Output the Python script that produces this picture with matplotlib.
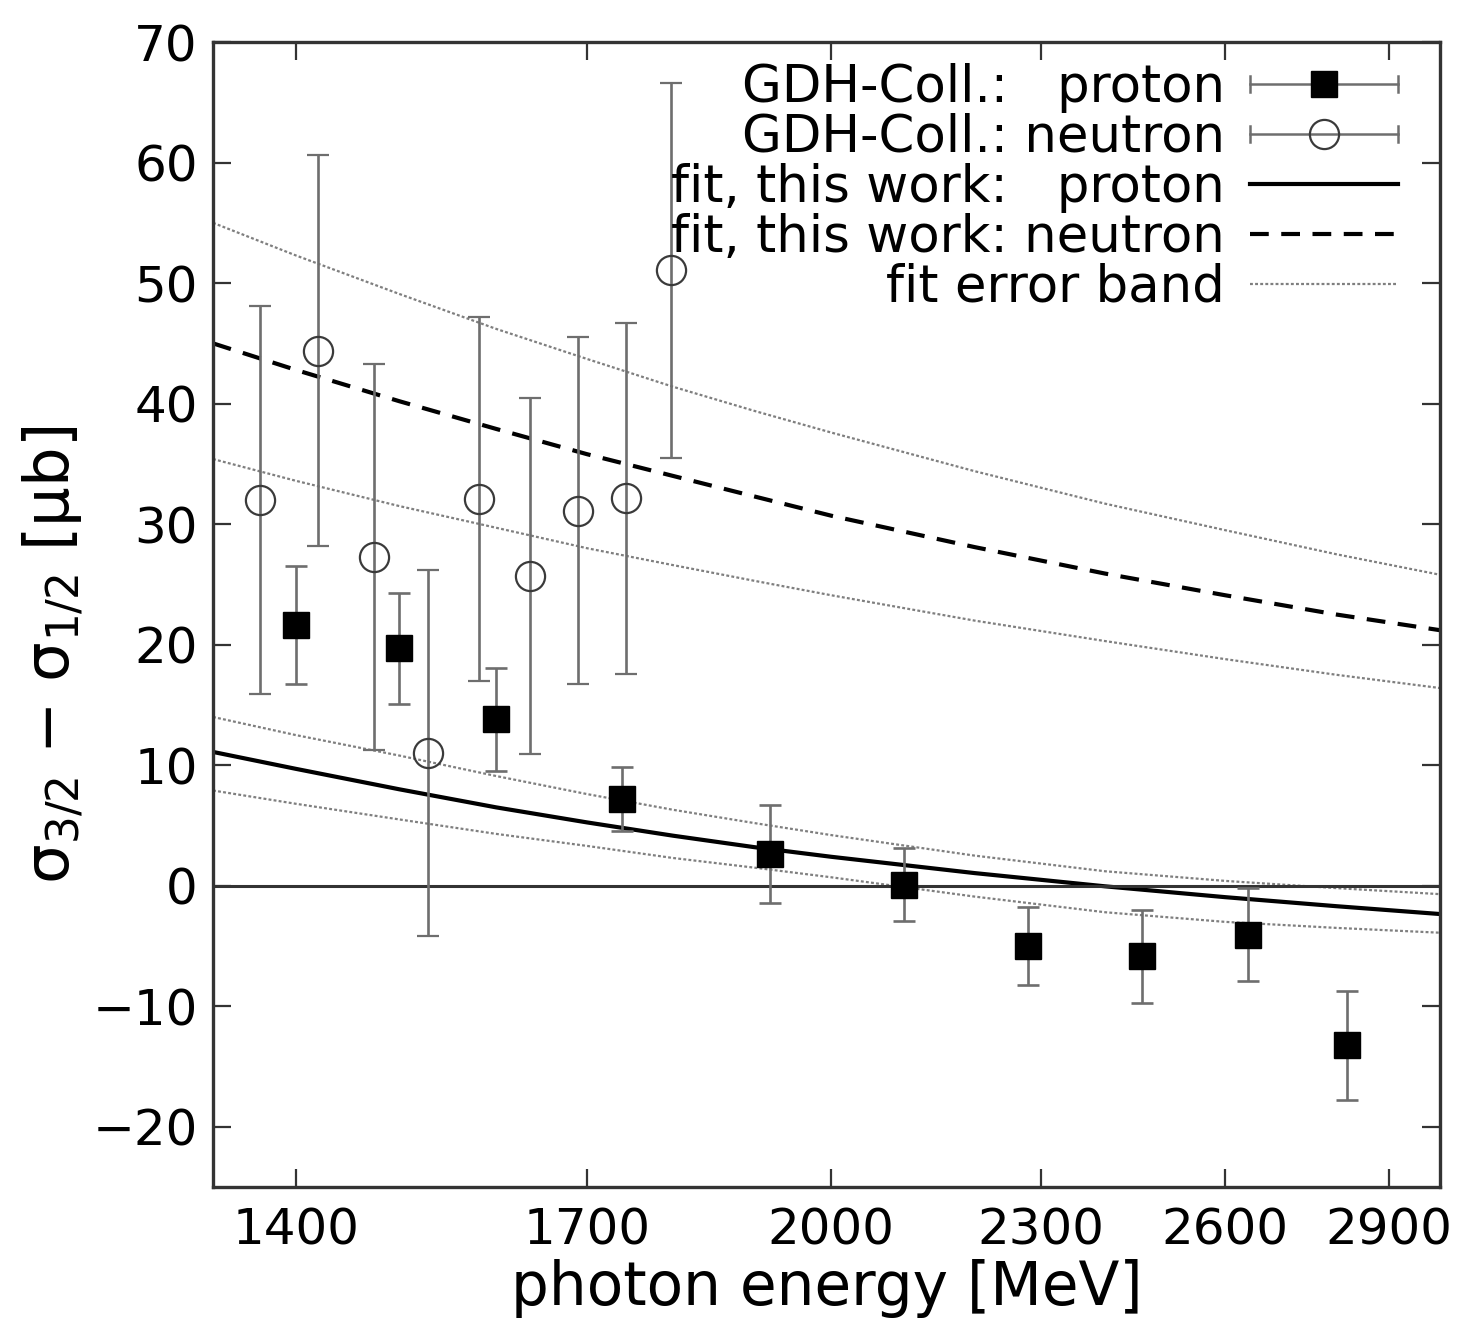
import numpy as np
import matplotlib
matplotlib.use("Agg")
import matplotlib.pyplot as plt
from matplotlib.lines import Line2D
from matplotlib.legend_handler import HandlerBase
from matplotlib.ticker import NullLocator

# GDH-Collaboration data, proton (filled squares)
E_proton = [1400, 1500, 1600, 1740, 1920, 2100, 2280, 2460, 2640, 2820]
sig_proton = [21.6, 19.7, 13.8, 7.2, 2.65, 0.1, -5.0, -5.85, -4.05, -13.25]
err_proton = [4.9, 4.6, 4.3, 2.65, 4.05, 3.0, 3.2, 3.85, 3.85, 4.55]

# GDH-Collaboration data, neutron (open circles)
E_neutron = [1367, 1421, 1475, 1529, 1582, 1636, 1690, 1744, 1798]
sig_neutron = [32.0, 44.4, 27.3, 11.0, 32.1, 25.7, 31.1, 32.15, 51.05]
err_neutron = [16.1, 16.2, 16.0, 15.2, 15.1, 14.8, 14.4, 14.55, 15.55]

# fit curves
E_fit = [1325, 1400, 1500, 1600, 1700, 1800, 1900, 2000, 2200, 2400, 2600, 2800, 3000]
fit_neutron = [45.0, 42.8, 40.2, 37.9, 35.8, 34.0, 32.3, 30.7, 28.1, 25.9, 24.1, 22.5, 21.2]
fit_neutron_hi = [55.0, 52.3, 49.1, 46.2, 43.7, 41.4, 39.4, 37.6, 34.4, 31.7, 29.5, 27.5, 25.8]
fit_neutron_lo = [35.4, 33.6, 31.5, 29.7, 28.0, 26.6, 25.3, 24.1, 22.0, 20.3, 18.8, 17.5, 16.4]
fit_proton = [11.1, 9.7, 8.0, 6.5, 5.25, 4.15, 3.2, 2.4, 1.05, -0.05, -0.95, -1.7, -2.35]
fit_proton_hi = [14.0, 12.5, 10.8, 9.1, 7.6, 6.3, 5.2, 4.2, 2.5, 1.2, 0.4, -0.2, -0.7]
fit_proton_lo = [7.9, 6.8, 5.5, 4.3, 3.3, 2.3, 1.5, 0.7, -0.9, -2.2, -3.0, -3.5, -3.9]

x_ticks = [1400, 1700, 2000, 2300, 2600, 2900]
y_ticks = [-20, -10, 0, 10, 20, 30, 40, 50, 60, 70]

AX_COL = '#333333'
BAR_COL = '#6e6e6e'
BAND_COL = '#7f7f7f'


class HandlerHBar(HandlerBase):
    # gnuplot style key sample: horizontal bar with caps and the point in the middle
    def create_artists(self, legend, orig_handle, xdescent, ydescent,
                       width, height, fontsize, trans):
        y = (height - ydescent) / 2
        x0, x1 = -xdescent, width - xdescent
        c = 0.22 * height
        arts = [Line2D([x0, x1], [y, y], color=BAR_COL, lw=1.8),
                Line2D([x0, x0], [y - c, y + c], color=BAR_COL, lw=1.8),
                Line2D([x1, x1], [y - c, y + c], color=BAR_COL, lw=1.8),
                Line2D([(x0 + x1) / 2], [y], ls='none',
                       marker=orig_handle.get_marker(),
                       ms=orig_handle.get_markersize(),
                       mfc=orig_handle.get_markerfacecolor(),
                       mec=orig_handle.get_markeredgecolor(),
                       mew=orig_handle.get_markeredgewidth())]
        for a in arts:
            a.set_transform(trans)
        return arts


fig = plt.figure(figsize=(14.59, 13.39), dpi=100)
fig.subplots_adjust(left=0.146, right=0.987, bottom=0.1135, top=0.9686)
ax = fig.add_subplot(111)

band_style = dict(color=BAND_COL, lw=1.6, ls=(0, (1.3, 1.0)))
ax.plot(E_fit, fit_neutron_hi, **band_style)
ax.plot(E_fit, fit_neutron_lo, **band_style)
ax.plot(E_fit, fit_proton_hi, **band_style)
ax.plot(E_fit, fit_proton_lo, **band_style)
ax.plot(E_fit, fit_neutron, color='black', lw=3.0, ls=(0, (4.5, 3)))
ax.plot(E_fit, fit_proton, color='black', lw=3.0)

ax.axhline(0, color=AX_COL, lw=2.2, zorder=2)

ax.errorbar(E_neutron, sig_neutron, yerr=err_neutron, fmt='o', ms=21,
            mfc='none', mec='#3a3a3a', mew=1.6, ecolor=BAR_COL,
            elinewidth=1.9, capsize=8, capthick=1.9, zorder=3)
ax.errorbar(E_proton, sig_proton, yerr=err_proton, fmt='s', ms=19,
            mfc='black', mec='black', ecolor=BAR_COL,
            elinewidth=1.9, capsize=8, capthick=1.9, zorder=4)

ax.set_xscale('log')
ax.set_xlim(1325, 3000)
ax.set_ylim(-25, 70)
ax.set_xticks(x_ticks, [str(t) for t in x_ticks])
ax.xaxis.set_minor_locator(NullLocator())
ax.set_yticks(y_ticks)
ax.tick_params(which='both', direction='in', top=True, right=True,
               length=13, width=1.6, color=AX_COL, labelsize=36)
ax.tick_params(axis='x', pad=14)
ax.tick_params(axis='y', pad=11)
for s in ax.spines.values():
    s.set_linewidth(2.4)
    s.set_color(AX_COL)

ax.set_xlabel('photon energy [MeV]', fontsize=43)
ax.xaxis.set_label_coords(0.5, -0.063)
ax.set_ylabel('σ$_{3/2}$ − σ$_{1/2}$ [μb]', fontsize=45)
ax.yaxis.set_label_coords(-0.105, 0.465)

h_p = Line2D([], [], marker='s', ms=19, mfc='black', mec='black', mew=1)
h_n = Line2D([], [], marker='o', ms=21, mfc='none', mec='#3a3a3a', mew=1.6)
h_fp = Line2D([], [], color='black', lw=3.0)
h_fn = Line2D([], [], color='black', lw=3.0, ls=(0, (4.5, 3)))
h_b = Line2D([], [], **band_style)
labels = ['GDH-Coll.:   proton', 'GDH-Coll.: neutron',
          'fit, this work:   proton', 'fit, this work: neutron',
          'fit error band']
ax.legend([h_p, h_n, h_fp, h_fn, h_b], labels,
          handler_map={h_p: HandlerHBar(), h_n: HandlerHBar()},
          loc='upper right', bbox_to_anchor=(0.966, 0.982),
          frameon=False, markerfirst=False, fontsize=37,
          borderpad=0, borderaxespad=0, handlelength=2.88,
          handletextpad=0.49, labelspacing=0.0)

fig.savefig('out.png', dpi=100)
